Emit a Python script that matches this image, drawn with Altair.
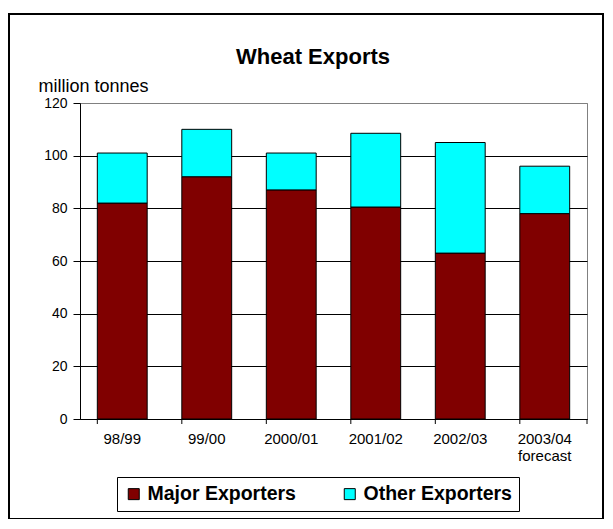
import altair as alt
import pandas as pd

categories = ["98/99", "99/00", "2000/01", "2001/02", "2002/03", "2003/04 forecast"]
major = [82, 92, 87, 80.5, 63, 78]
other = [19, 18, 14, 28, 42, 18]
series = ["Major Exporters", "Other Exporters"]
colors = ["#800000", "#00FFFF"]
y_ticks = [0, 20, 40, 60, 80, 100, 120]
chart_title = "Wheat Exports"

rows = []
for c, m, o in zip(categories, major, other):
    rows.append({"year": c, "series": series[0], "value": m, "ord": 0})
    rows.append({"year": c, "series": series[1], "value": o, "ord": 1})
df = pd.DataFrame(rows)

FONT = "Liberation Sans"

xscale = alt.Scale(domain=categories, paddingInner=0.41, paddingOuter=0.205)

bars = alt.Chart(df).mark_bar(stroke="black", strokeWidth=1).encode(
    x=alt.X("year:N", scale=xscale, sort=categories,
            axis=alt.Axis(title=None, labelAngle=0, ticks=False, labelPadding=12,
                          labelFontSize=15, labelLineHeight=17,
                          labelExpr="split(datum.label, ' ')",
                          domainColor="black", labelColor="black", labelFont=FONT)),
    y=alt.Y("value:Q", stack="zero",
            scale=alt.Scale(domain=[0, 120], nice=False),
            axis=alt.Axis(title="million tonnes", values=y_ticks, titleAngle=0,
                          titleAlign="left", titleBaseline="alphabetic",
                          titleX=-42, titleY=-12, titleFontSize=18,
                          titleFontWeight="normal", titleFont=FONT, titleColor="black",
                          labelFontSize=14, labelFont=FONT, labelColor="black",
                          tickSize=7, labelPadding=6, tickColor="black",
                          domainColor="black",
                          grid=True,
                          gridColor=alt.condition("datum.value >= 120", alt.value("#808080"), alt.value("black")))),
    color=alt.Color("series:N", scale=alt.Scale(domain=series, range=colors),
                    legend=alt.Legend(title=None)),
    order=alt.Order("ord:Q"),
)

xticks = alt.Chart(df[df["ord"] == 0]).mark_rule(color="black", strokeWidth=1).encode(
    x=alt.X("year:N", scale=xscale, sort=categories, bandPosition=0),
    y=alt.value(316), y2=alt.value(321),
)
last_tick = alt.Chart(pd.DataFrame({"a": [0]})).mark_rule(color="black", strokeWidth=1).encode(
    x=alt.value(507), y=alt.value(316), y2=alt.value(321),
)
border = alt.Chart(pd.DataFrame({"a": [0]})).mark_rect(
    fill=None, stroke="black", strokeWidth=2
).encode(
    x=alt.value(-71), x2=alt.value(523), y=alt.value(-89), y2=alt.value(416),
)
title = alt.Chart(pd.DataFrame({"t": [chart_title]})).mark_text(
    font=FONT, fontSize=22, fontWeight="bold", color="black",
    align="center", baseline="alphabetic",
).encode(
    text="t:N", x=alt.value(233), y=alt.value(-39),
)

chart = alt.layer(bars, xticks, last_tick, border, title).properties(
    width=507, height=316,
    autosize=alt.AutoSizeParams(type="none"),
    padding={"left": 72, "top": 95, "right": 18, "bottom": 100},
).configure_view(stroke="#808080", strokeWidth=1).configure_axis(
    gridWidth=1,
).configure_legend(
    orient="none", legendX=37, legendY=374, direction="horizontal",
    strokeColor="black", fillColor="white", padding=7,
    symbolType="square", symbolSize=121, symbolStrokeColor="black",
    symbolStrokeWidth=1, labelFontSize=19.5, labelFontWeight="bold",
    labelFont=FONT, labelColor="black", columnPadding=44, labelLimit=300,
    labelOffset=4,
)

chart.save("out.html", embed_options={"renderer": "svg", "actions": False})
